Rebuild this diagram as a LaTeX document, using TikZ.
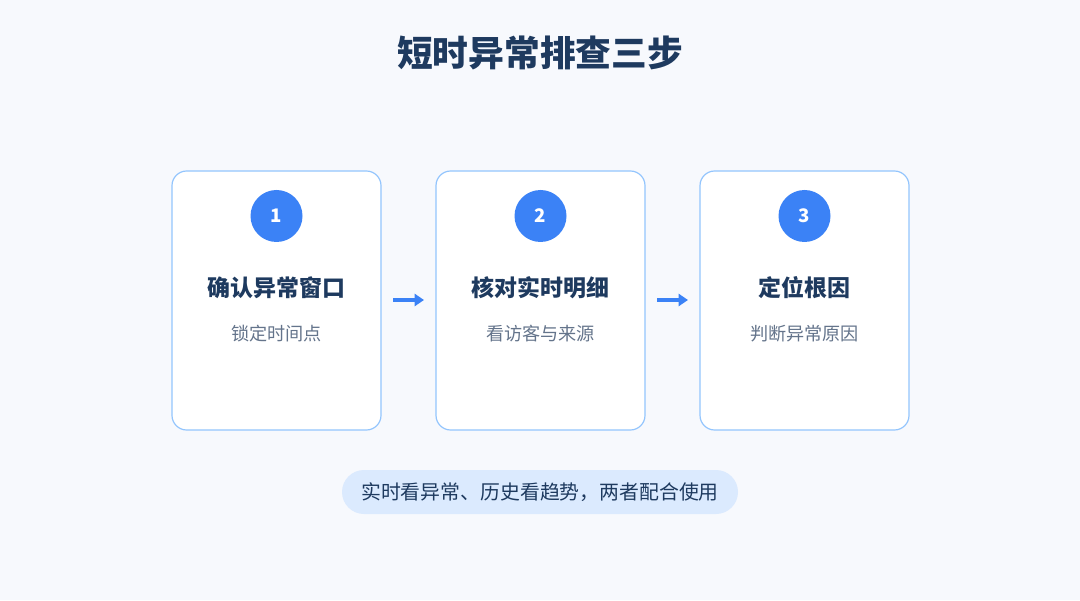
\documentclass[tikz,border=0pt]{standalone}
\usepackage{fontspec}
\setmainfont{Noto Sans CJK SC}
\usetikzlibrary{positioning,arrows.meta}
\definecolor{bgcol}{HTML}{F7F9FD}
\definecolor{navy}{HTML}{1E3A5F}
\definecolor{accent}{HTML}{3B82F6}
\definecolor{edgeblue}{HTML}{93C5FD}
\definecolor{subgray}{HTML}{64748B}
\definecolor{pillfill}{HTML}{DBEAFE}
\tikzset{
 card/.style={draw=edgeblue,fill=white,line width=0.9pt,rounded corners=11pt,minimum width=156.75pt,minimum height=194.25pt},
 badge/.style={circle,fill=accent,minimum size=39pt,inner sep=0pt,text=white,font=\bfseries\fontsize{14}{16}\selectfont},
 steptitle/.style={text=navy,font=\bfseries\fontsize{17.2}{20}\selectfont},
 stepsub/.style={text=subgray,font=\fontsize{13.6}{16}\selectfont},
 flow/.style={-{Triangle[length=7pt,width=9pt]},accent,line width=2.6pt}
}
\newcommand{\step}[5]{%
 \node[card] ({#1}) at ({#2},299.5) {};
 \node[badge] ({#1n}) at ({#2},384) {#3};
 \node[steptitle] ({#1t}) at ({#2},312) {#4};
 \node[stepsub] ({#1s}) at ({#2},266) {#5};
}
\begin{document}
\begin{tikzpicture}[x=0.75pt,y=0.75pt]
 \fill[bgcol] (0,0) rectangle (1080,600);
 \useasboundingbox (0,0) rectangle (1080,600);
 \node[text=navy,font=\bfseries\fontsize{26.8}{32}\selectfont] (title) at (540,547) {短时异常排查三步};
 \step{s1}{276.5}{1}{确认异常窗口}{锁定时间点}
 \step{s2}{540.5}{2}{核对实时明细}{看访客与来源}
 \step{s3}{804.5}{3}{定位根因}{判断异常原因}
 \coordinate (a1) at (393,300); \coordinate (b1) at (424,300);
 \coordinate (a2) at (657,300); \coordinate (b2) at (688,300);
 \draw[flow] (a1) -- (b1);
 \draw[flow] (a2) -- (b2);
 \node[fill=pillfill,rounded corners=16.5pt,minimum width=297pt,minimum height=33pt,text=navy,font=\fontsize{14.9}{17}\selectfont] (note) at (540,108) {实时看异常、历史看趋势，两者配合使用};
\end{tikzpicture}
\end{document}
